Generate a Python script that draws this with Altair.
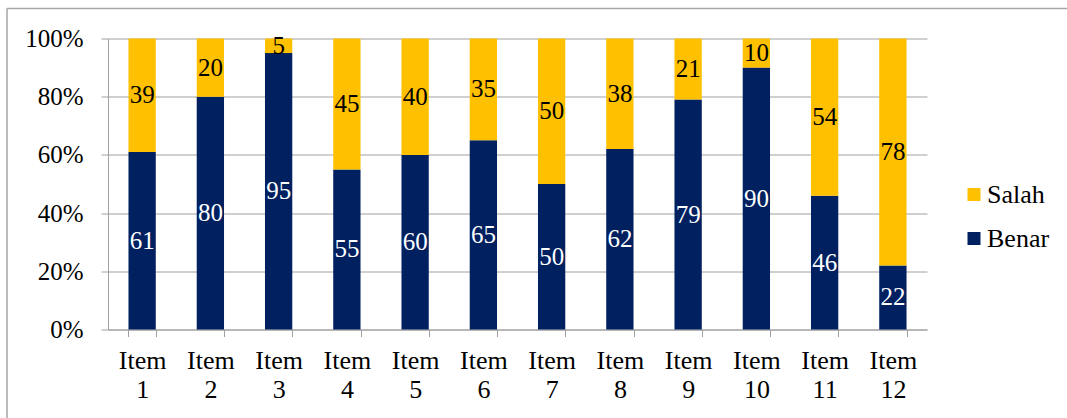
import altair as alt
import pandas as pd

items = ["Item 1", "Item 2", "Item 3", "Item 4", "Item 5", "Item 6",
         "Item 7", "Item 8", "Item 9", "Item 10", "Item 11", "Item 12"]
benar = [61, 80, 95, 55, 60, 65, 50, 62, 79, 90, 46, 22]
salah = [39, 20, 5, 45, 40, 35, 50, 38, 21, 10, 54, 78]
series = ["Salah", "Benar"]
colors = ["#FFC000", "#002060"]

rows = []
for it, b, s in zip(items, benar, salah):
    tot = b + s
    rows.append({"item": it, "series": "Benar", "value": b, "ord": 0,
                 "y0": 0, "y1": b / tot})
    rows.append({"item": it, "series": "Salah", "value": s, "ord": 1,
                 "y0": b / tot, "y1": 1.0})
df = pd.DataFrame(rows)
df["ymid"] = (df["y0"] + df["y1"]) / 2

FONT = "Liberation Serif"
W, H = 819, 291

x = alt.X("item:N", sort=items, title=None,
          scale=alt.Scale(paddingInner=0.6, paddingOuter=0.3),
          axis=alt.Axis(labelAngle=0, labelExpr="split(datum.label, ' ')",
                        labelFont=FONT, labelFontSize=26, labelColor="black",
                        labelLineHeight=29, labelPadding=11, labelBaseline="top",
                        tickBand="extent", tickSize=7, tickColor="#a0a0a0",
                        domainColor="#a0a0a0", grid=False))

bars = alt.Chart(df).mark_bar().encode(
    x=x,
    y=alt.Y("y0:Q", title=None,
            scale=alt.Scale(domain=[0, 1], nice=False),
            axis=alt.Axis(format="%", values=[0, 0.2, 0.4, 0.6, 0.8, 1.0],
                          labelFont=FONT, labelFontSize=25, labelColor="black",
                          labelPadding=18, tickSize=7, tickColor="#a0a0a0",
                          domainColor="#a0a0a0", grid=True, gridColor="#a0a0a0")),
    y2="y1:Q",
    color=alt.Color("series:N", scale=alt.Scale(domain=series, range=colors),
                    title=None,
                    legend=alt.Legend(orient="none", legendX=853, legendY=143,
                                      symbolType="square", symbolSize=169,
                                      symbolStrokeWidth=0, labelFont=FONT,
                                      labelFontSize=26, labelColor="black",
                                      rowPadding=18, labelOffset=0, padding=0)),
)

txt_b = alt.Chart(df).transform_filter("datum.series == 'Benar'").mark_text(
    font=FONT, fontSize=25, color="white", baseline="middle").encode(
    x=alt.X("item:N", sort=items), y=alt.Y("ymid:Q"), text="value:Q")
txt_s = alt.Chart(df).transform_filter("datum.series == 'Salah'").mark_text(
    font=FONT, fontSize=25, color="black", baseline="middle").encode(
    x=alt.X("item:N", sort=items), y=alt.Y("ymid:Q"), text="value:Q")

one = pd.DataFrame({"a": [0]})
border_top = alt.Chart(one).mark_rule(color="#a6a6a6", strokeWidth=1.5).encode(
    x=alt.value(-101), x2=alt.value(1067 - 108), y=alt.value(-30))
border_left = alt.Chart(one).mark_rule(color="#a6a6a6", strokeWidth=1.5).encode(
    x=alt.value(-101), y=alt.value(-30), y2=alt.value(418))

chart = alt.layer(bars, txt_b, txt_s, border_top, border_left).properties(
    width=W, height=H,
    autosize=alt.AutoSizeParams(type="none"),
    padding={"left": 108, "top": 38.5, "right": 140, "bottom": 88.5},
    background="white",
).configure_view(stroke=None)

chart.save("out.html", embed_options={"renderer": "svg", "actions": False})
